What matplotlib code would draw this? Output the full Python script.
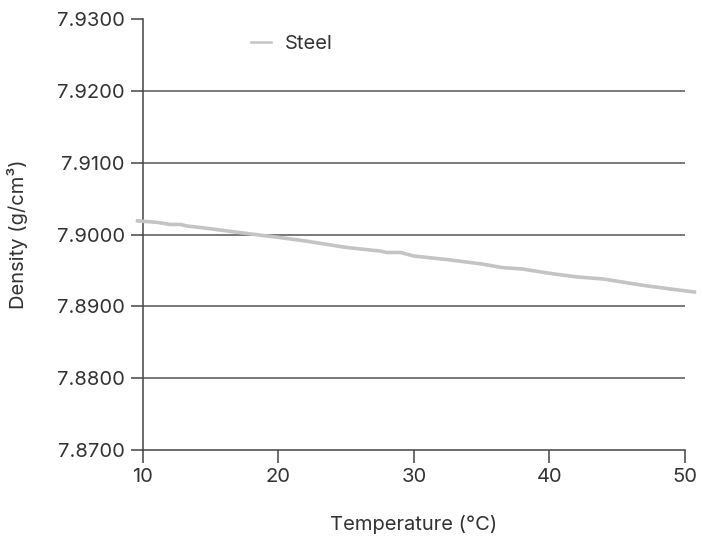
import matplotlib.pyplot as plt
from matplotlib.ticker import FormatStrFormatter

plt.rcParams['font.family'] = ['Inter', 'DejaVu Sans']

temperature = [9.6, 11.0, 12.0, 12.8, 13.2, 15.0, 17.0, 18.3, 20.0, 22.0, 25.0,
               27.5, 28.0, 29.0, 30.0, 32.5, 35.0, 36.5, 38.0, 40.0, 42.0,
               44.0, 45.0, 47.0, 49.0, 50.7]
density = [7.9019, 7.9017, 7.9014, 7.9014, 7.9012, 7.9008, 7.9003, 7.9000,
           7.8996, 7.8991, 7.8982, 7.8977, 7.8975, 7.8975, 7.8970, 7.8965,
           7.8959, 7.8954, 7.8952, 7.8946, 7.8941, 7.8938, 7.8935, 7.8929,
           7.8924, 7.8920]

fig = plt.figure(figsize=(7.02, 5.39), dpi=100)
ax = fig.add_axes([0.2037, 0.1651, 0.772, 0.7996])

ax.plot(temperature, density, color='#c4c4c6', lw=2.6, label='Steel',
        clip_on=False, zorder=3)

ax.set_xlim(10, 50)
ax.set_ylim(7.87, 7.93)
ax.set_xticks([10, 20, 30, 40, 50])
ax.set_yticks([7.87, 7.88, 7.89, 7.90, 7.91, 7.92, 7.93])
ax.yaxis.set_major_formatter(FormatStrFormatter('%.4f'))

for y in [7.88, 7.89, 7.90, 7.91, 7.92]:
    ax.axhline(y, color='#555555', lw=1.1, zorder=1)

for side in ['top', 'right']:
    ax.spines[side].set_visible(False)
for side in ['left', 'bottom']:
    ax.spines[side].set_color('#444444')
    ax.spines[side].set_linewidth(1.1)

ax.tick_params(axis='both', colors='#444444', labelcolor='#333333',
               labelsize=14.5, length=9, width=1.1)
ax.tick_params(axis='x', pad=4)
ax.tick_params(axis='y', pad=4)

ax.set_xlabel('Temperature (°C)', fontsize=14.5, color='#333333', labelpad=21)
ax.set_ylabel('Density (g/cm³)', fontsize=14.5, color='#333333', labelpad=21)

leg = ax.legend(loc='upper left', bbox_to_anchor=(0.165, 1.005), frameon=False,
                fontsize=14.5, handlelength=1.0, handletextpad=0.7,
                labelcolor='#333333')
for line in leg.get_lines():
    line.set_linewidth(1.8)

fig.savefig('out.png', dpi=100)
